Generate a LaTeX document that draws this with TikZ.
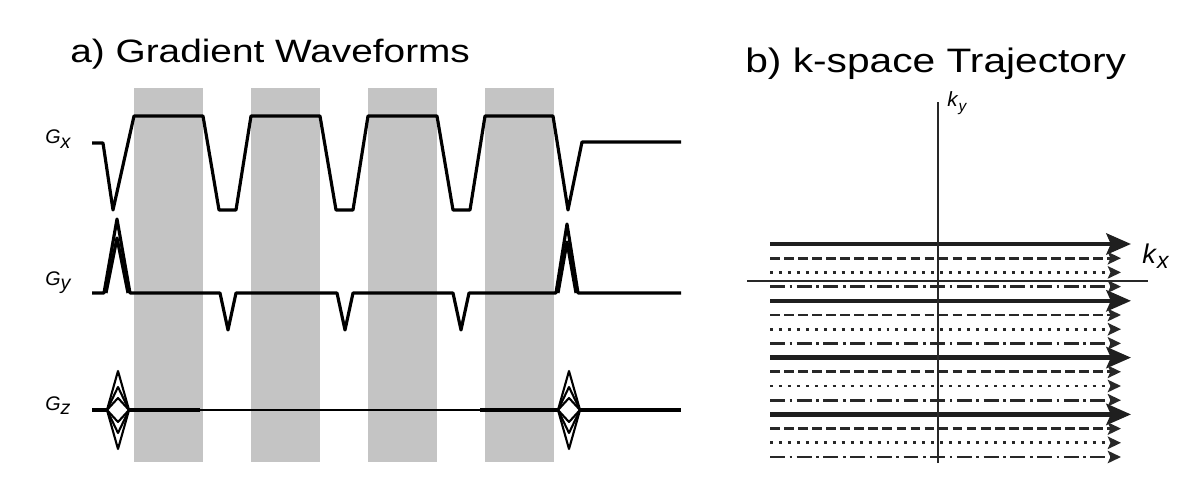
\documentclass[tikz,border=0pt]{standalone}
\usepackage{fontspec}
\usepackage{graphicx}
\usepackage{tikz}
\usetikzlibrary{arrows.meta}
\setmainfont{Liberation Sans}
\newfontfamily\titlefont{Liberation Sans}[FakeStretch=1.2]
\definecolor{BandGrey}{RGB}{196,196,196}
\definecolor{TrajGrey}{RGB}{40,40,40}
\newcommand{\axlab}[3]{\textit{#1}\raisebox{-#3}{\textit{#2}}}

\begin{document}
\begin{tikzpicture}[
  x=0.02cm, y=-0.02cm,
  wave/.style={line width=1.8pt, line join=round},
  title/.style={anchor=base west, inner sep=0pt},
  glabel/.style={anchor=base west, inner sep=0pt, font=\fontsize{11.2}{13}\selectfont},
  kmain/.style={line width=2.6pt, draw=black!88, -{Stealth[length=14pt, width=12pt, inset=2.5pt]}},
  kline/.style={line width=1.5pt, draw=TrajGrey, -{Stealth[length=7.5pt, width=7pt, inset=1.5pt]}},
  dashrow/.style={kline, dash pattern=on 5.5pt off 2.5pt},
  dotrow/.style={kline, line width=1.7pt, dash pattern=on 1.7pt off 3.4pt},
  dashdotrow/.style={kline, dash pattern=on 8.5pt off 2.6pt on 1.5pt off 2.6pt},
  axis/.style={line width=1.1pt, draw=TrajGrey}
]
\useasboundingbox (0,0) rectangle (1189,493);

\node[title, font=\titlefont\fontsize{18.4}{20}\selectfont] (wavetitle) at (70,63) {a) Gradient Waveforms};
\node[title, font=\titlefont\fontsize{19.3}{21}\selectfont] (trajtitle) at (745,73) {b) k-space Trajectory};

\foreach \b in {134,251,368,485}
  \fill[BandGrey] (\b,88) rectangle ++(69,374);

\node[glabel] (gx) at (45,144) {\axlab{G}{x}{0.45ex}};
\node[glabel] (gy) at (45,285) {\axlab{G}{y}{0.45ex}};
\node[glabel] (gz) at (45,410) {\axlab{G}{z}{0.45ex}};

\draw[wave] (92,143) -- (103,143) -- (113,210) -- (134,116)
  \foreach \k in {0,1,2} { -- ({203+117*\k},116) -- ({219+117*\k},210) -- ({236+117*\k},210) -- ({251+117*\k},116) }
  -- (553,116) -- (568,210) -- (582,142) -- (681,142);

\draw[wave] (92,293) -- (104,293) -- (117,219) -- (130,293)
  \foreach \c in {228,345,461} { -- ({\c-8},293) -- (\c,330) -- ({\c+8},293) }
  -- (556,293) -- (567,224) -- (578,293) -- (681,293);
\draw[wave] (106,293) -- (117,238) -- (128,293);
\draw[wave] (558,293) -- (567,242) -- (576,293);

\draw[line width=2.2pt] (92,410) -- (107,410) (129,410) -- (200,410) (480,410) -- (558,410) (580,410) -- (681,410);
\draw[line width=1.2pt] (200,410) -- (480,410);
\foreach \cx in {118,569}
  \foreach \h in {39,23,12}
    \draw[wave, line width=1.2pt] ({\cx-11},410) -- (\cx,{410-\h}) -- ({\cx+11},410) -- (\cx,{410+\h}) -- cycle;

\foreach \r in {0,1,2,3} {
  \draw[kmain] (770,{244+56.8*\r}) -- (1131,{244+56.8*\r});
  \draw[dashrow] (770,{258.2+56.8*\r}) -- (1121,{258.2+56.8*\r});
  \draw[dotrow] (770,{272.4+56.8*\r}) -- (1121,{272.4+56.8*\r});
  \draw[dashdotrow] (770,{286.6+56.8*\r}) -- (1121,{286.6+56.8*\r});
}

\coordinate (kxleft) at (747,281);
\coordinate (kxright) at (1148,281);
\coordinate (kybottom) at (938,463);
\coordinate (kytop) at (938,102);
\draw[axis] (kxleft) -- (kxright);
\draw[axis] (kybottom) -- (kytop);
\node[glabel, font=\fontsize{11.7}{13}\selectfont] (ky) at (947,107) {\axlab{k}{\scalebox{0.75}{y}}{0.4ex}};
\node[glabel, font=\fontsize{15.4}{17}\selectfont] (kx) at (1142,263) {\axlab{k}{\scalebox{0.85}{x}}{0.4ex}};
\end{tikzpicture}
\end{document}
